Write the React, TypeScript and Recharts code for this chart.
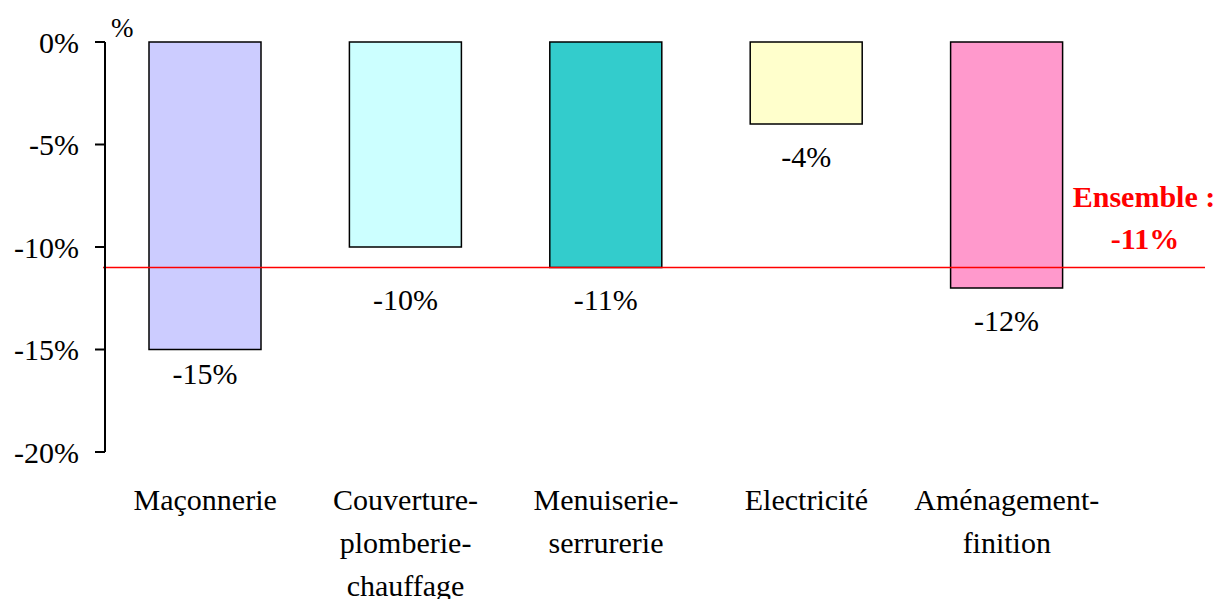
import { BarChart, Bar, Cell, XAxis, YAxis, ReferenceLine, LabelList } from 'recharts';

const CATEGORIES = ['Maçonnerie', 'Couverture-plomberie-chauffage', 'Menuiserie-serrurerie', 'Electricité', 'Aménagement-finition'];
const VALUES = [-15, -10, -11, -4, -12];
const Y_TICKS = [0, -5, -10, -15, -20];
const ENSEMBLE = -11;

const COLORS = ['#CCCCFF', '#CCFFFF', '#33CCCC', '#FFFFCC', '#FF99CC'];
// label offsets below each bar (they were nudged by hand in the original)
const LABEL_DY = [34, 63, 42, 43, 43];

const W = 1221;
const H = 599;
const MARGIN = { top: 42, right: 114, bottom: 0, left: 0 };
const Y_AXIS_W = 105;
const BOTTOM_AXIS_H = 147;
const PLOT_BOTTOM = H - BOTTOM_AXIS_H;
const HALF_BAND = (W - Y_AXIS_W - MARGIN.right) / CATEGORIES.length / 2;
const FONT = '"Liberation Serif", "Times New Roman", serif';

const data = CATEGORIES.map((name, i) => ({ name, value: VALUES[i] }));

const fmt = (v: number) => `${v}%`;

// tick marks sit on category boundaries, not centres
const TopTick = ({ x }: any) => (
  <line x1={x + HALF_BAND} x2={x + HALF_BAND} y1={MARGIN.top} y2={MARGIN.top + 11} stroke="#000" strokeWidth={2} />
);

const CategoryTick = ({ x, payload }: any) => {
  const lines: string[] = String(payload.value).split(/(?<=-)/);
  return (
    <text x={x} y={PLOT_BOTTOM + 58} textAnchor="middle" fontFamily={FONT} fontSize={30} fill="#000">
      {lines.map((l, i) => (
        <tspan key={i} x={x} dy={i === 0 ? 0 : 43}>
          {l}
        </tspan>
      ))}
    </text>
  );
};

const ValueLabel = (props: any) => {
  const { x, y, width, height, value } = props;
  const idx = props.index ?? VALUES.indexOf(value);
  const bottom = Math.max(y, y + height);
  return (
    <text x={x + width / 2} y={bottom + LABEL_DY[idx]} textAnchor="middle" fontFamily={FONT} fontSize={30} fill="#000">
      {fmt(value)}
    </text>
  );
};

const EnsembleLine = (p: any) => {
  const tx = p.x2 + 37;
  return (
    <g>
      <line x1={p.x1 - 2} y1={p.y1} x2={p.x2 + 98} y2={p.y2} stroke="#FF0000" strokeWidth={1.5} />
      <text x={tx} y={p.y1 - 61} textAnchor="middle" fontFamily={FONT} fontSize={30} fontWeight="bold" fill="#FF0000">
        Ensemble :
      </text>
      <text x={tx + 1} y={p.y1 - 19} textAnchor="middle" fontFamily={FONT} fontSize={30} fontWeight="bold" fill="#FF0000">
        {fmt(ENSEMBLE)}
      </text>
    </g>
  );
};

export default function App() {
  return (
    <div style={{ position: 'absolute', left: 0, top: 0, width: W, height: H, background: '#fff', fontFamily: FONT }}>
      <BarChart width={W} height={H} data={data} margin={MARGIN}>
        <XAxis
          xAxisId="top"
          dataKey="name"
          orientation="top"
          height={0}
          axisLine={{ stroke: '#000', strokeWidth: 2 }}
          tickLine={false}
          tick={<TopTick />}
          interval={0}
        />
        <XAxis
          xAxisId="cat"
          dataKey="name"
          orientation="bottom"
          height={BOTTOM_AXIS_H}
          axisLine={false}
          tickLine={false}
          tick={<CategoryTick />}
          interval={0}
        />
        <YAxis
          width={Y_AXIS_W}
          domain={[-20, 0]}
          ticks={Y_TICKS}
          tickFormatter={fmt}
          axisLine={{ stroke: '#000', strokeWidth: 2 }}
          tickLine={{ stroke: '#000', strokeWidth: 2 }}
          tickSize={10}
          tickMargin={16}
          tick={{ fill: '#000', fontSize: 30, fontFamily: FONT }}
          interval={0}
          label={{
            content: ({ viewBox }: any) => (
              <text x={viewBox.x + viewBox.width + 6} y={viewBox.y - 5} fontFamily={FONT} fontSize={27} fill="#000">
                %
              </text>
            ),
          }}
        />
        <Bar xAxisId="top" dataKey="value" barSize={112} stroke="#000" strokeWidth={1.5} isAnimationActive={false}>
          {data.map((_, i) => (
            <Cell key={i} fill={COLORS[i]} />
          ))}
          <LabelList dataKey="value" content={<ValueLabel />} />
        </Bar>
        <ReferenceLine xAxisId="top" y={ENSEMBLE} shape={EnsembleLine} />
      </BarChart>
    </div>
  );
}
